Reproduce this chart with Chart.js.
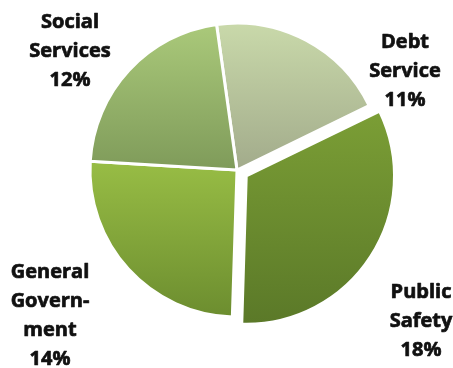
<!DOCTYPE html>
<html>
<head>
<meta charset="utf-8">
<title>Budget by function</title>
<script src="https://cdn.jsdelivr.net/npm/chart.js@4.4.1/dist/chart.umd.min.js"></script>
<style>
  html, body { margin: 0; padding: 0; background: #fff; }
  #wrap { width: 453px; height: 368px; position: relative; }
</style>
</head>
<body>
<div id="wrap"><canvas id="chart-pie"></canvas></div>
<script>
// slices, clockwise from just left of 12 o'clock
const categories = ['Debt Service', 'Public Safety', 'General Government', 'Social Services'];
const labelLines = [['Debt', 'Service'], ['Public', 'Safety'], ['General', 'Govern-', 'ment'], ['Social', 'Services']];
const shares = [11, 18, 14, 12];
const explodePx = [0, 11, 0, 0];

// top / bottom colour of each slice's vertical gradient
const topColors = ['#c9d9aa', '#7a9d35', '#98bd45', '#aac97a'];
const bottomColors = ['#a2ab8b', '#5a7828', '#6c8d2f', '#7f9b5a'];

// where each text block is centred (x, first line y)
const labelAnchors = [[405, 42], [421, 292], [50, 272], [70, 22]];
const lineStep = 29;

const ROTATION = -8;
const RADIUS = 147;

// vertical extent of slice i, used to stretch its gradient
function sliceYRange(chart, i) {
  const a = chart.chartArea;
  const cy = (a.top + a.bottom) / 2;
  const total = shares.reduce((s, v) => s + v, 0);
  let start = ROTATION;
  for (let k = 0; k < i; k++) start += shares[k] / total * 360;
  const end = start + shares[i] / total * 360;
  const mid = (start + end) / 2 * Math.PI / 180;
  const oy = -Math.cos(mid) * explodePx[i];
  const ys = [cy];
  for (let d = start; d <= end; d += 2) ys.push(cy - Math.cos(d * Math.PI / 180) * RADIUS);
  ys.push(cy - Math.cos(end * Math.PI / 180) * RADIUS);
  return [Math.min(...ys) + oy, Math.max(...ys) + oy];
}

function sliceFill(ctx) {
  const chart = ctx.chart;
  const i = ctx.dataIndex;
  if (!chart.chartArea) return topColors[i];
  const [y0, y1] = sliceYRange(chart, i);
  const g = chart.ctx.createLinearGradient(0, y0, 0, y1);
  g.addColorStop(0, topColors[i]);
  g.addColorStop(1, bottomColors[i]);
  return g;
}

// heavy black category labels with the value underneath
const sliceLabels = {
  id: 'sliceLabels',
  afterDatasetsDraw(chart) {
    const c = chart.ctx;
    c.save();
    c.font = 'bold 20px "Open Sans"';
    c.fillStyle = '#111';
    c.strokeStyle = '#111';
    c.lineWidth = 0.7;
    c.lineJoin = 'round';
    c.textAlign = 'center';
    c.textBaseline = 'middle';
    categories.forEach((name, i) => {
      const lines = [...labelLines[i], shares[i] + '%'];
      const [x, y] = labelAnchors[i];
      lines.forEach((t, j) => {
        c.fillText(t, x, y + j * lineStep);
        c.strokeText(t, x, y + j * lineStep);
      });
    });
    c.restore();
  }
};

new Chart(document.getElementById('chart-pie'), {
  type: 'pie',
  data: {
    labels: categories,
    datasets: [{
      data: shares,
      backgroundColor: sliceFill,
      borderColor: '#ffffff',
      borderWidth: 3,
      // ArcElement moves a slice out by offset / 4
      offset: explodePx.map(v => v * 4)
    }]
  },
  options: {
    responsive: true,
    maintainAspectRatio: false,
    animation: false,
    rotation: ROTATION,
    radius: RADIUS,
    layout: { padding: { left: 21, right: 0, top: 0, bottom: 28 } },
    plugins: { legend: { display: false }, tooltip: { enabled: false } }
  },
  plugins: [sliceLabels]
});
</script>
</body>
</html>
